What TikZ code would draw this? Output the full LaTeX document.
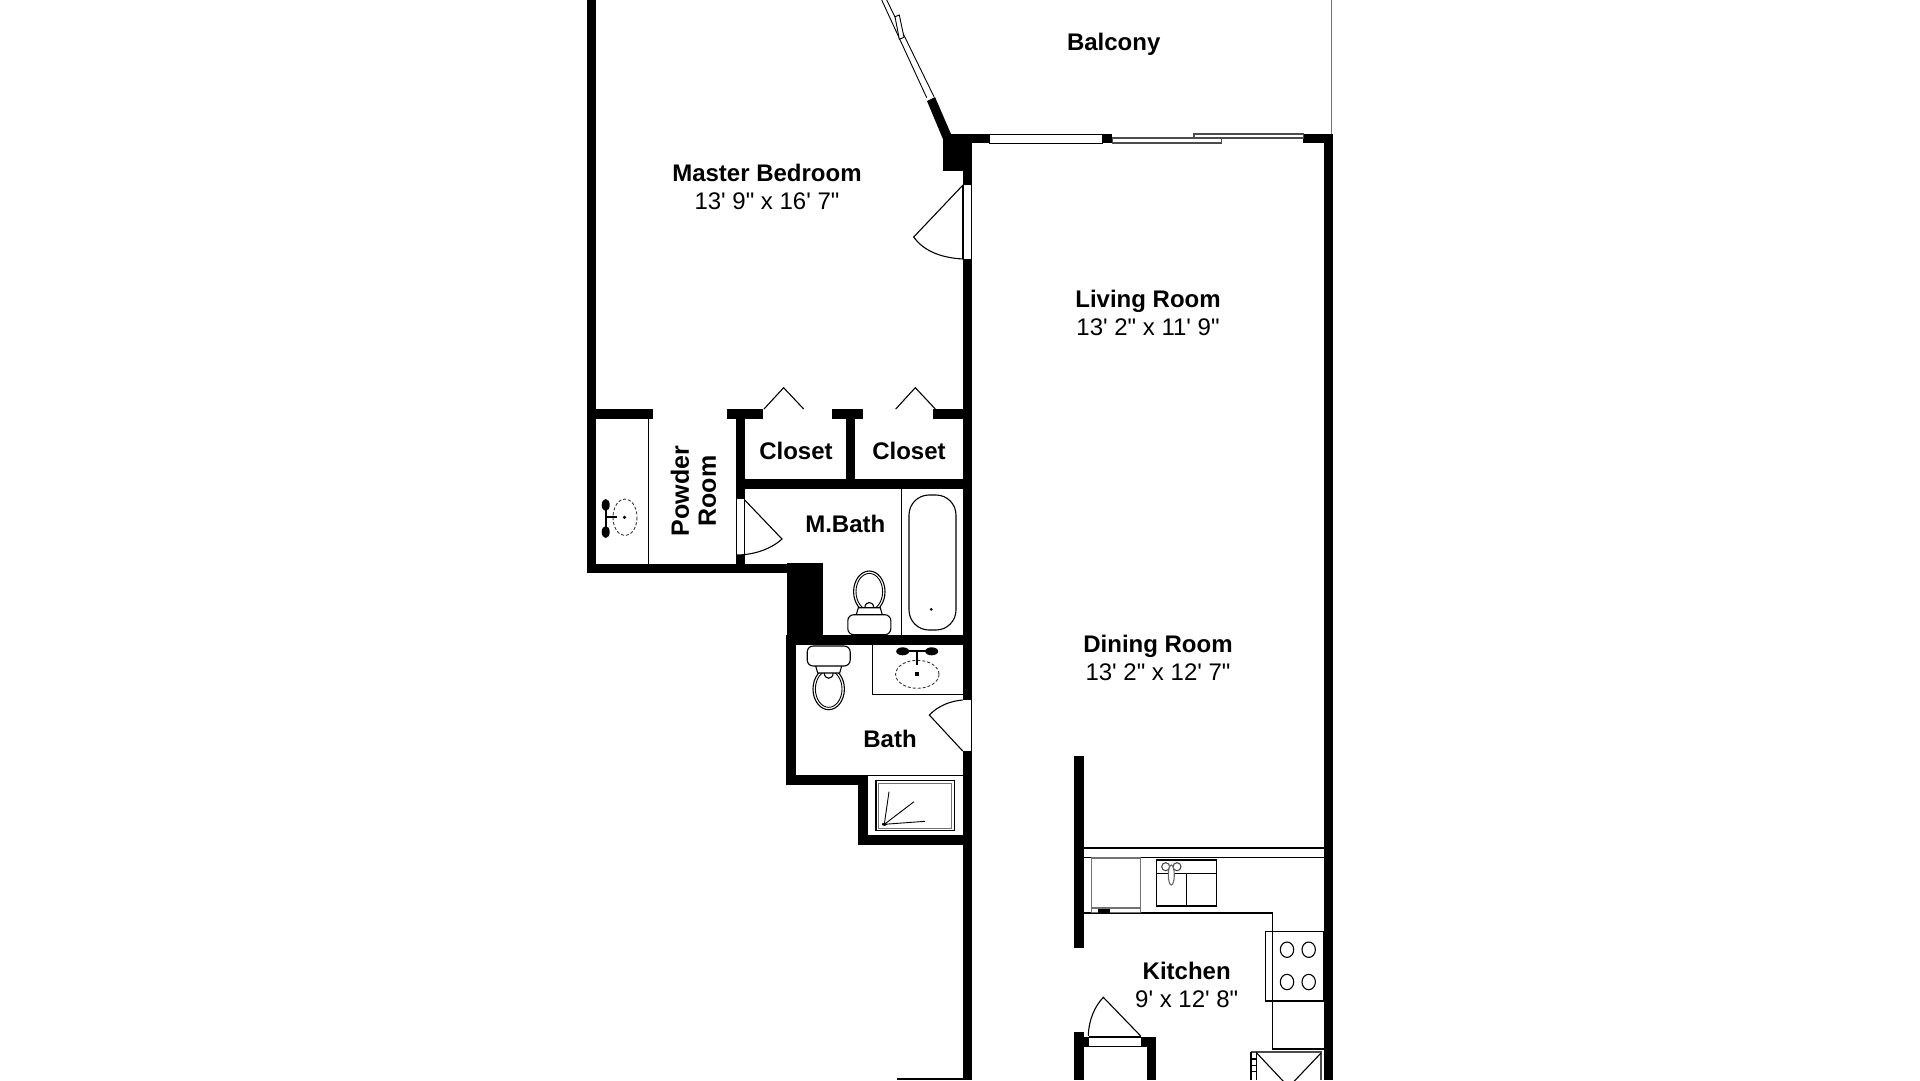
\documentclass[tikz,border=0pt]{standalone}
\usepackage{fontspec}
\setmainfont{Liberation Sans}[Ligatures=TeXOff]
\begin{document}
\begin{tikzpicture}[x=1pt,y=-1pt,
		wall/.style={fill=black},
		fine/.style={draw=black,line width=1.1pt},
		faint/.style={draw=black!55,line width=1.1pt},
		rim/.style={draw=black!80,line width=0.9pt,densely dashed},
		room/.style={align=center,inner sep=0pt,font=\fontsize{24}{28}\selectfont},
		tag/.style={inner sep=0pt,font=\fontsize{24}{28}\selectfont\bfseries}]
	
	\useasboundingbox (0,0) rectangle (1920,1080);
	\clip (0,0) rectangle (1920,1080);
	
	% Walls
	\foreach \xa/\ya/\xb/\yb in {587.3/0/596.3/573.3,
		596/409/653.3/419, 727/409/762.7/419, 832.3/409/863.3/419, 932.7/409/963/419,
		736/409/745.3/499.3, 736/555/745.3/573.3, 845.7/409/855.3/489.3, 736/479.3/972/489.3,
		587.3/563.7/786.7/573.3, 786.7/563/823.3/645, 786.7/635/972/645.3,
		786.3/635/796/785, 786.3/775/867.7/785, 858.3/775/867.7/845.3, 858.3/835.3/972/845.3,
		962.7/133.7/971.7/185, 962.7/259/971.7/700, 962.7/751/971.7/1080,
		943.3/133.7/971.7/171, 943.3/133.7/989.3/143.3, 1102.3/133.7/1112.3/143.3,
		1303.3/133.7/1332.5/143.3, 1323.5/133.7/1332.5/1080,
		1074.3/755.5/1083.7/948.3, 1074.3/1031.7/1083.7/1080, 1074.3/1036.7/1089/1046.7,
		1140.7/1036.7/1155.7/1046.7, 1146.7/1036.7/1155.7/1080, 896.7/1077.7/972/1080}
	\fill[wall] (\xa,\ya) rectangle (\xb,\yb);
	\fill[wall] (927,101) -- (935,97) -- (951,134) -- (943.3,140) -- cycle;
	
	% Balcony
	\draw[faint] (1331.8,0) -- (1331.8,134);
	\draw[fine,line width=0.9pt] (881.7,0) -- (926.7,97.7);
	\draw[fine,line width=0.9pt] (886.7,0) -- (934,96.7);
	\draw[fine,line width=0.9pt,fill=white] (895,16.7) -- (899.3,15) -- (904,37.3) -- (899.3,39.3) -- cycle;
	\draw[fine,line width=0.9pt] (989.3,134) rectangle (1102.3,143);
	\draw[fine,draw=black!70] (1112.3,138) rectangle (1221.7,143);
	\draw[fine,draw=black!70] (1194,134) rectangle (1303.3,138);
	
	% Doors
	\draw[fine] (963,185) -- (963,259);
	\draw[fine] (971.7,185) -- (971.7,259);
	\draw[fine] (963,185) -- (913.7,237) .. controls (925,253) and (945,258) .. (963,259);
	\draw[fine] (736.5,499.3) -- (736.5,555);
	\draw[fine] (744.7,499.3) -- (744.7,555);
	\draw[fine] (744.7,500) -- (782,539) .. controls (770,550) and (752,555) .. (736.5,555);
	\draw[fine] (971.7,700) -- (971.7,751);
	\draw[fine] (962.7,751) -- (929.3,715) .. controls (938,706) and (950,701) .. (962.7,700);
	\draw[fine] (1089,1037) -- (1140.7,1037);
	\draw[fine] (1089,1046.3) -- (1140.7,1046.3);
	\draw[fine] (1140.7,1036) -- (1103.3,997.3) .. controls (1095,1006) and (1088.5,1020) .. (1088.3,1036);
	\foreach \xa/\xp/\xb in {764/783.6/803.7, 895.7/915.3/935.3}
	\draw[fine] (\xa,409) -- (\xp,387.7) -- (\xb,409);
	
	% Powder room
	\draw[fine] (648.3,419) -- (648.3,563.7);
	\draw[rim] (625,517.3) circle [x radius=12,y radius=18.3];
	\fill (624.5,517.3) circle (1.8);
	\draw[line width=2pt] (605.7,505) -- (605.7,532);
	\draw[line width=2pt] (605.7,517.3) -- (617,517.3);
	\foreach \y in {505,532}
	\fill (605.7,\y) circle [x radius=4,y radius=6];
	
	% Master bath
	\draw[fine] (901.3,489.3) -- (901.3,635);
	\draw[fine,rounded corners=20pt] (909,495) rectangle (956,630);
	\fill (931.3,609.3) circle (1.5);
	
	% Toilets
	\foreach \cx/\cy/\s in {869.3/591.7/1, 828.7/689/-1}{
		\begin{scope}[shift={(\cx,\cy)},yscale=\s]
			\draw[fine] (0,0) circle [x radius=15.7,y radius=20.7];
			\draw[fine,line width=0.9pt] (0,0) circle [x radius=13.3,y radius=18.3];
			\draw[fine,fill=white] (-13,23) -- (-11,16) -- (11,16) -- (13,23);
			\draw[fine,fill=white,rounded corners=6pt] (-21.5,23) rectangle (21.5,43);
			\draw[fine] (-4.5,16) .. controls (-4,9) and (4,9) .. (4.5,16);
		\end{scope}
	}
	
	% Bath
	\draw[fine] (872.3,645) -- (872.3,694.7) -- (962.7,694.7);
	\draw[rim] (917.3,674.3) circle [x radius=21.7,y radius=14];
	\fill (915.3,672.3) rectangle (919.3,676.3);
	\draw[line width=2pt] (902.7,651) -- (931.7,651);
	\draw[line width=2pt] (917.3,651) -- (917.3,665);
	\foreach \x in {902.7,931.7}
	\fill (\x,651.3) circle [x radius=6.5,y radius=4];
	\draw[fine,line width=0.8pt] (867.7,775) -- (962.7,775);
	\draw[fine] (876,780.7) rectangle (954.3,830.7);
	\draw[faint] (878.5,783.2) rectangle (951.8,828.2);
	\foreach \xe/\ye in {889/791.7, 914/801.7, 925/821.3}
	\draw[fine,line width=0.9pt] (884.3,824.3) -- (\xe,\ye);
	\fill (884.3,824.3) circle [x radius=2.5,y radius=1.5];
	
	% Kitchen counter
	\draw[fine] (1083.7,848) -- (1324,848);
	\draw[fine] (1083.7,857.5) -- (1324,857.5);
	\draw[fine] (1083.7,913) -- (1272.7,913) -- (1272.7,1049) -- (1323.5,1049);
	\draw[faint] (1091.7,858) rectangle (1140.7,912.7);
	\draw[faint] (1091.7,908) -- (1140.7,908);
	\fill (1098.3,909) rectangle (1110,912.7);
	\draw[fine] (1156.3,860) rectangle (1216.7,906);
	\draw[fine] (1156.3,873.3) -- (1216.7,873.3);
	\draw[fine] (1186.3,873.3) -- (1186.3,906);
	\foreach \x in {1165.7,1177}
	\draw[fine,draw=black!70] (\x,866.7) circle (4);
	\draw[fine,draw=black!60,fill=white] (1171.3,875) circle [x radius=3,y radius=10];
	\draw[fine] (1265.7,931.7) rectangle (1323.3,1001);
	\foreach \x in {1287,1308.7}
	\foreach \y in {949.7,982}
	\draw[fine] (\x,\y) circle [x radius=6.7,y radius=7.7];
	
	% Fridge
	\draw[fine,draw=black!70] (1251,1052) -- (1321,1052) -- (1321,1080);
	\foreach \x in {1251,1256.7}
	\draw[fine] (\x,1052) -- (\x,1080);
	\foreach \y in {1059,1065.7,1071.7}
	\draw[fine] (1251,\y) -- (1256.7,\y);
	\draw[fine] (1256.7,1053) -- (1288.7,1087);
	\draw[fine] (1321,1053) -- (1288.7,1087);
	
	% Labels
	\node[tag] (balcony) at (1113.7,44.5) {Balcony};
	\node[room] (master) at (767,187.4) {\textbf{Master Bedroom}\\13' 9" x 16' 7"};
	\node[room] (living) at (1148,313) {\textbf{Living Room}\\13' 2" x 11' 9"};
	\node[room] (dining) at (1158,657.5) {\textbf{Dining Room}\\13' 2" x 12' 7"};
	\node[room] (kitchen) at (1186.7,984.5) {\textbf{Kitchen}\\9' x 12' 8"};
	\node[tag] (closeta) at (796,451) {Closet};
	\node[tag] (closetb) at (909,451) {Closet};
	\node[tag] (mbath) at (845.3,524) {M.Bath};
	\node[tag] (bath) at (890,739) {Bath};
	\node[room,rotate=90,font=\fontsize{25}{27}\selectfont\bfseries] (powder) at (693.5,491) {Powder\\Room};
\end{tikzpicture}
\end{document}
